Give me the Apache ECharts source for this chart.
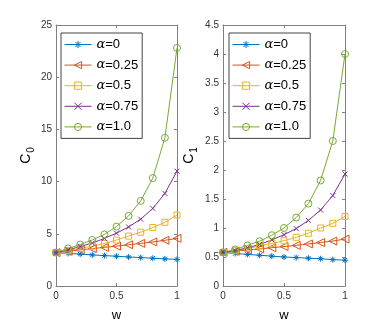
<!DOCTYPE html>
<html><head><meta charset="utf-8">
<script src="https://cdn.jsdelivr.net/npm/echarts@6/dist/echarts.min.js"></script>
<style>html,body{margin:0;padding:0;background:#fff}#c{width:382px;height:327px}</style>
</head><body><div id="c"></div>
<script>
const w = [0, 0.1, 0.2, 0.3, 0.4, 0.5, 0.6, 0.7, 0.8, 0.9, 1.0];
const seriesNames = ['α=0', 'α=0.25', 'α=0.5', 'α=0.75', 'α=1.0'];
// C0 (left panel)
const c0_a000 = [3.2, 3.12, 3.05, 2.98, 2.91, 2.85, 2.78, 2.72, 2.66, 2.6, 2.55];
const c0_a025 = [3.2, 3.33, 3.46, 3.58, 3.7, 3.82, 3.95, 4.08, 4.22, 4.38, 4.56];
const c0_a050 = [3.2, 3.4, 3.6, 3.82, 4.08, 4.4, 4.78, 5.15, 5.6, 6.1, 6.8];
const c0_a075 = [3.2, 3.47, 3.78, 4.12, 4.56, 5.06, 5.65, 6.4, 7.43, 8.87, 11.0];
const c0_a100 = [3.2, 3.6, 3.97, 4.41, 4.94, 5.69, 6.72, 8.15, 10.34, 14.2, 22.8];
// C1 (right panel)
const c1_a000 = [0.58, 0.56, 0.545, 0.53, 0.515, 0.5, 0.49, 0.48, 0.47, 0.455, 0.445];
const c1_a025 = [0.58, 0.6, 0.62, 0.64, 0.66, 0.68, 0.7, 0.725, 0.75, 0.775, 0.81];
const c1_a050 = [0.58, 0.61, 0.645, 0.69, 0.735, 0.78, 0.84, 0.91, 1.0, 1.08, 1.2];
const c1_a075 = [0.58, 0.61, 0.66, 0.716, 0.795, 0.885, 0.99, 1.13, 1.31, 1.56, 1.93];
const c1_a100 = [0.58, 0.63, 0.7, 0.773, 0.875, 1.0, 1.18, 1.42, 1.82, 2.5, 4.0];
const xTicks = [0, 0.5, 1];
const c0Max = 25, c0Step = 5;
const c1Max = 4.5, c1Step = 0.5;

const colors = ['#0072BD', '#D95319', '#EDB120', '#7E2F8E', '#77AC30'];
const symbols = [
  'path://M0,-1L0,1M-1,0L1,0M-0.7,-0.7L0.7,0.7M-0.7,0.7L0.7,-0.7',
  'path://M-1,0L1,-1L1,1Z',
  'rect',
  'path://M-1,-1L1,1M-1,1L1,-1',
  'circle'
];
const symSizes = [6, 8, 6, 5, 7];
const FONT = 'Liberation Sans, Arial, sans-serif';
const axisGray = '#808080';
const labelCol = '#333';

function mkSeries(vals, i, gi) {
  return {
    name: seriesNames[i], type: 'line', xAxisIndex: gi, yAxisIndex: gi,
    data: w.map((x, k) => [x, vals[k]]),
    symbol: symbols[i], symbolSize: symSizes[i], showAllSymbol: true,
    lineStyle: { color: colors[i], width: 1 },
    itemStyle: { color: 'rgba(255,255,255,0)', borderColor: colors[i], borderWidth: 1 },
    emphasis: { disabled: true }, animation: false, z: 2
  };
}
const left = [c0_a000, c0_a025, c0_a050, c0_a075, c0_a100];
const right = [c1_a000, c1_a025, c1_a050, c1_a075, c1_a100];
const series = [];
left.forEach((v, i) => series.push(mkSeries(v, i, 0)));
right.forEach((v, i) => series.push(mkSeries(v, i, 1)));

function xAx(gi, pos) {
  const main = pos === 'bottom';
  return {
    type: 'value', gridIndex: gi, position: pos, min: 0, max: 1, interval: 0.5,
    axisLine: { show: true, onZero: false, lineStyle: { color: axisGray, width: 1 } },
    axisTick: { show: true, inside: true, length: 3, lineStyle: { color: axisGray } },
    splitLine: { show: false },
    axisLabel: { show: main, fontSize: 10, color: labelCol, fontFamily: FONT, margin: 5,
      formatter: v => xTicks.includes(v) ? String(v) : '' },
    name: main ? 'w' : '', nameLocation: 'middle', nameGap: 23,
    nameTextStyle: { fontSize: 13, color: '#000', fontFamily: FONT }
  };
}
function yAx(gi, pos, max, step, sub, gap) {
  const main = pos === 'left';
  return {
    type: 'value', gridIndex: gi, position: pos, min: 0, max: max, interval: step,
    axisLine: { show: true, onZero: false, lineStyle: { color: axisGray, width: 1 } },
    axisTick: { show: true, inside: true, length: 3, lineStyle: { color: axisGray } },
    splitLine: { show: false },
    axisLabel: { show: main, fontSize: 10, color: labelCol, fontFamily: FONT, margin: 4 },
    name: main ? '{c|C}{s|' + sub + '}' : '', nameLocation: 'middle', nameGap: gap, nameRotate: 90,
    nameTextStyle: { fontFamily: FONT, color: '#000',
      rich: { c: { fontSize: 14, fontFamily: FONT, color: '#000' },
              s: { fontSize: 10, fontFamily: FONT, color: '#000', padding: [9, 0, 0, 1] } } }
  };
}
function legend(leftPx) {
  return {
    data: seriesNames, orient: 'vertical', left: leftPx, top: 33,
    itemWidth: 27, itemHeight: 9, itemGap: 7.6,
    padding: [5, 4, 5, 3],
    backgroundColor: '#fff', borderColor: '#444', borderWidth: 1,
    selectedMode: false,
    lineStyle: { width: 1 },
    itemStyle: { borderWidth: 1 },
    formatter: n => '{a|α}' + n.slice(1),
    textStyle: { fontSize: 13, color: '#000', fontFamily: FONT,
      rich: { a: { fontSize: 13, fontStyle: 'italic', fontFamily: 'DejaVu Serif, serif', color: '#000' } } }
  };
}

const option = {
  backgroundColor: '#fff',
  animation: false,
  grid: [
    { left: 56, top: 25, width: 121, height: 266 },
    { left: 223, top: 25, width: 122, height: 266 }
  ],
  xAxis: [xAx(0, 'bottom'), xAx(1, 'bottom'), xAx(0, 'top'), xAx(1, 'top')],
  yAxis: [yAx(0, 'left', c0Max, c0Step, '0', 20), yAx(1, 'left', c1Max, c1Step, '1', 24),
          yAx(0, 'right', c0Max, c0Step, '', 0), yAx(1, 'right', c1Max, c1Step, '', 0)],
  legend: [legend(61), legend(229)],
  series: series
};
const chart = echarts.init(document.getElementById('c'), null, { renderer: 'canvas' });
chart.setOption(option);
</script>
</body></html>
